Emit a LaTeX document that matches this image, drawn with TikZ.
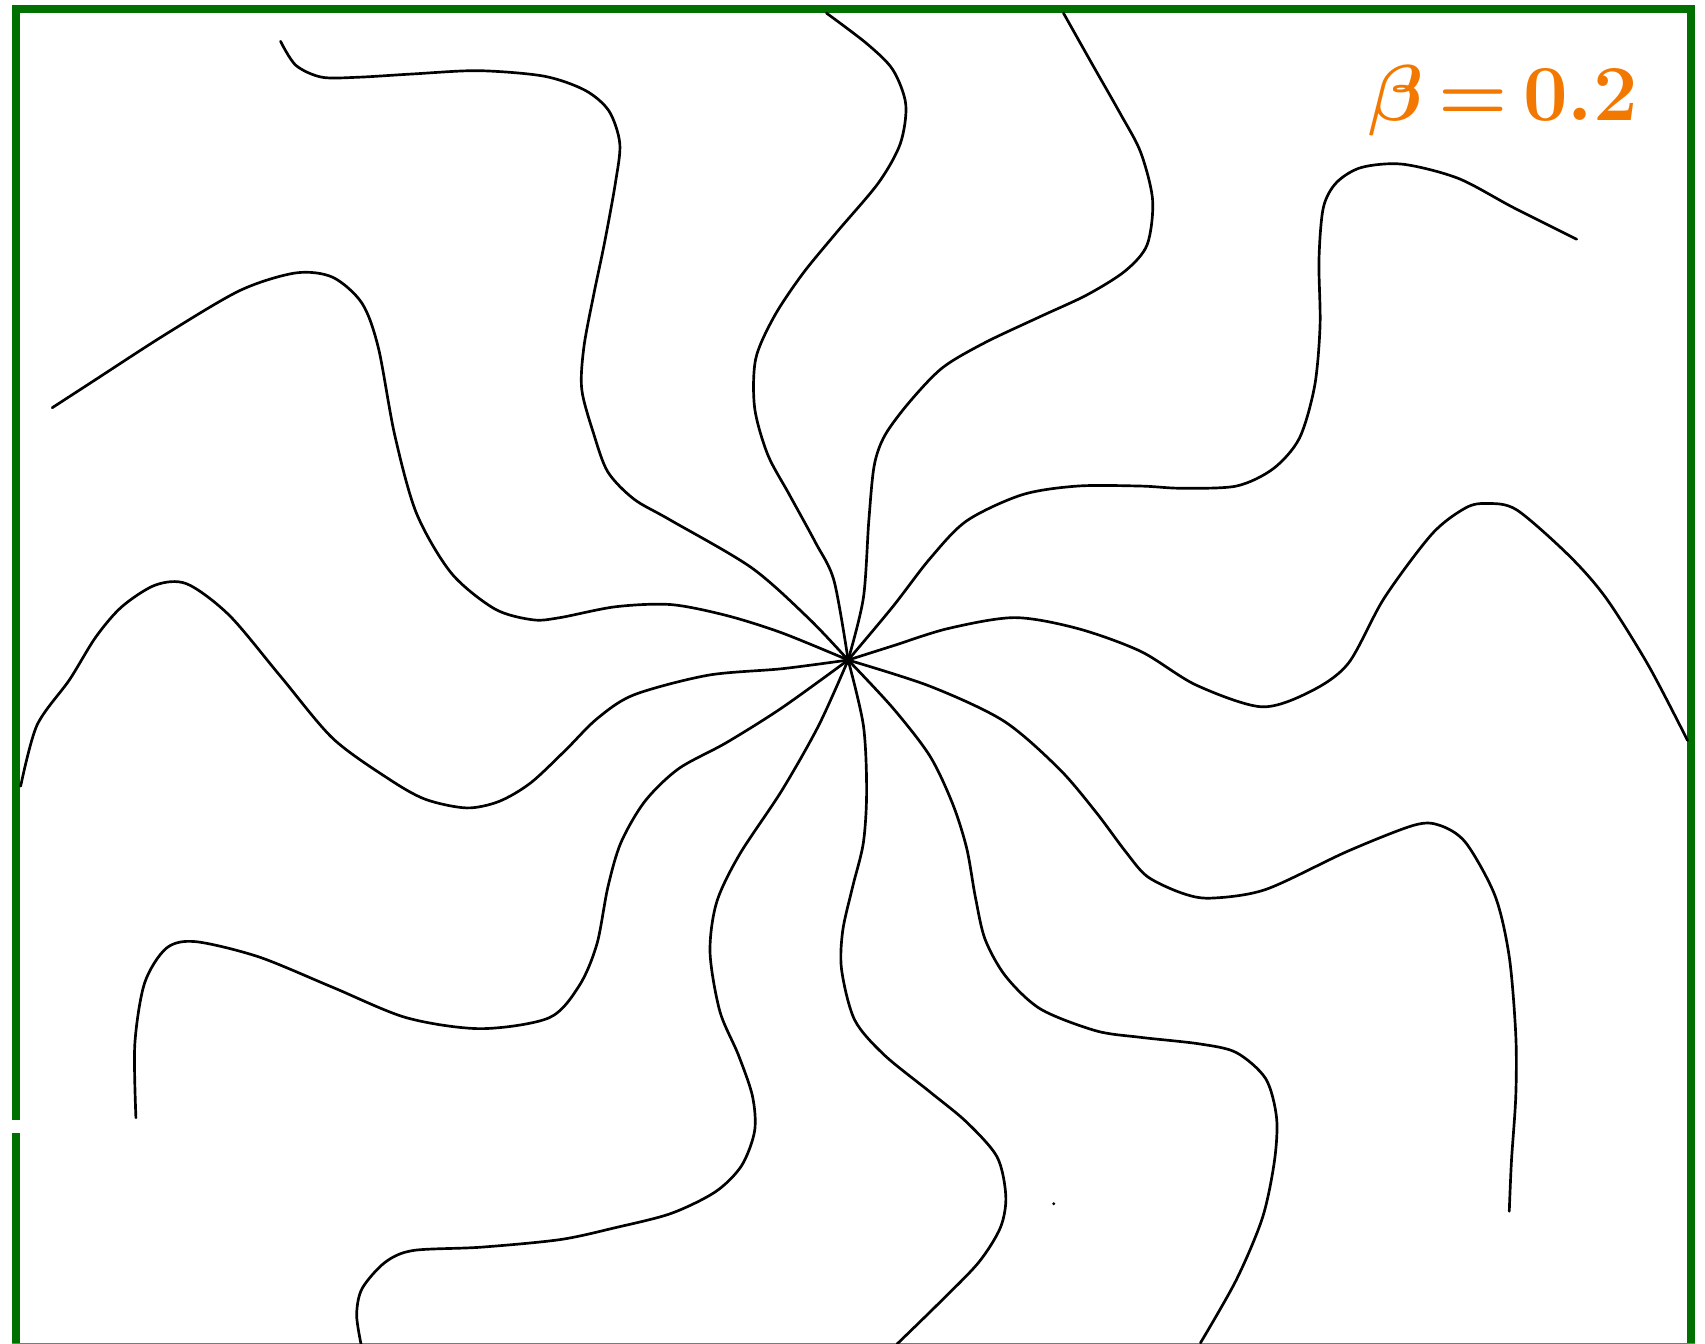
\documentclass[tikz,border=0pt]{standalone}
\usepackage{tikz}
\usetikzlibrary{calc}
\usepackage{xcolor}
\definecolor{framegreen}{RGB}{0,112,0}
\definecolor{betaorange}{RGB}{242,120,0}
\newcommand{\betaline}{$\beta\mkern3mu{=}\mkern3mu0.2$}

\begin{document}
\begin{tikzpicture}[
    x=0.01cm, y=-0.01cm,
    arm/.style={line width=0.7pt, draw=black, line join=round, line cap=round},
    frame/.style={draw=framegreen, line width=0.074cm, line join=miter},
    betatext/.style={anchor=base east, inner sep=0pt, text=betaorange,
                     font=\mathversion{bold}\fontsize{22pt}{24pt}\selectfont}
]
\useasboundingbox (0,0) rectangle (1568,1236);

% frame
\draw[frame] (14.7,1030) -- (14.7,8) -- (1555.4,8) -- (1555.4,1236);
\draw[frame] (14.7,1042) -- (14.7,1236);
\draw[draw=framegreen!70, line width=0.012cm] (11,1235.4) -- (1559,1235.4);

% centre of the star
\coordinate (c) at (780,607);

% twelve arms, counter-clockwise from the upper left
\draw[arm] plot[smooth] coordinates {(c) (744,569) (691,522) (616,478) (583,459) (559,434) (546,399) (535,358) (537,319) (546,271) (556,223) (566,168) (570,132) (560,102) (538,83) (500,70) (440,65) (380,68) (330,71) (296,71) (272,60) (258,38)};
\draw[arm] plot[smooth] coordinates {(c) (767,534) (750,499) (726,455) (706,418) (694,375) (695,330) (712,291) (738,252) (770,213) (808,168) (828,132) (833,96) (821,64) (797,40) (760,12)};
\draw[arm] plot[smooth] coordinates {(c) (794,550) (799,479) (804,428) (814,400) (837,369) (867,338) (906,315) (957,291) (1000,271) (1035,249) (1055,225) (1060,184) (1049,140) (1030,104) (1005,60) (978,12)};
\draw[arm] plot[smooth] coordinates {(c) (821,558) (855,514) (889,479) (940,455) (991,447) (1049,447) (1086,449) (1137,447) (1171,431) (1195,403) (1209,355) (1214,299) (1213,239) (1217,191) (1229,168) (1252,154) (1290,151) (1341,164) (1392,191) (1450,220)};
\draw[arm] plot[smooth] coordinates {(c) (821,594) (872,578) (933,568) (991,578) (1049,599) (1100,630) (1160,650) (1205,636) (1240,610) (1273,550) (1317,491) (1348,467) (1368,463) (1395,469) (1443,511) (1477,550) (1516,612) (1552,681)};
\draw[arm] plot[smooth] coordinates {(c) (855,631) (923,663) (974,707) (1008,747) (1035,783) (1055,806) (1086,821) (1113,826) (1164,818) (1239,783) (1300,759) (1324,759) (1348,775) (1375,824) (1388,880) (1394,952) (1394,1008) (1390,1068) (1388,1114)};
\draw[arm] plot[smooth] coordinates {(c) (821,651) (855,695) (876,739) (889,780) (897,825) (906,864) (925,898) (957,928) (1008,948) (1049,954) (1103,960) (1137,968) (1164,992) (1174,1028) (1172,1068) (1161,1120) (1137,1177) (1104,1235)};
\draw[arm] plot[smooth] coordinates {(c) (794,667) (797,727) (794,775) (784,816) (775,856) (774,892) (786,938) (813,970) (855,1004) (889,1032) (917,1064) (925,1100) (920,1129) (900,1161) (865,1197) (825,1236)};
\draw[arm] plot[smooth] coordinates {(c) (753,667) (719,727) (680,786) (659,830) (653,876) (662,930) (679,970) (692,1008) (694,1040) (682,1072) (658,1096) (617,1116) (566,1129) (515,1140) (442,1147) (380,1150) (354,1161) (333,1185) (328,1209) (332,1236)};
\draw[arm] plot[smooth] coordinates {(c) (719,651) (668,683) (624,707) (593,737) (571,775) (559,816) (549,868) (533,906) (505,936) (442,946) (374,936) (306,908) (238,880) (180,866) (153,872) (133,904) (124,960) (125,1028)};
\draw[arm] plot[smooth] coordinates {(c) (719,615) (651,621) (583,639) (549,661) (520,690) (488,720) (459,737) (429,743) (391,735) (357,716) (306,679) (258,622) (211,566) (172,537) (143,538) (112,558) (88,586) (64,625) (34,667) (19,723)};
\draw[arm] plot[smooth] coordinates {(c) (719,582) (668,566) (617,556) (566,558) (515,568) (490,570) (455,560) (415,527) (383,472) (363,400) (348,320) (333,279) (306,255) (272,251) (221,267) (153,307) (85,351) (48,375)};

\fill[black] (c) circle[radius=4.5];
\fill[black] (969,1107) circle[radius=1.5];

% label
\node[betatext] (beta) at (1507,111) {\betaline};

\end{tikzpicture}
\end{document}
